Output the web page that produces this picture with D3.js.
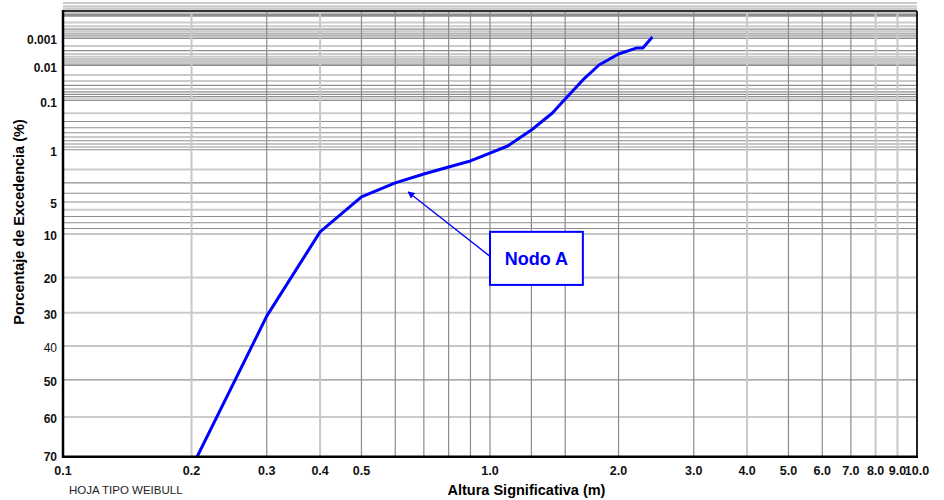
<!DOCTYPE html>
<meta charset="utf-8">
<style>
body { margin: 0; background: #fff; }
text { font-family: Arial, "Liberation Sans", sans-serif; }
</style>
<svg width="944" height="500" id="svg"></svg>
<script src="https://d3js.org/d3.v7.min.js"></script>
<script>

// Altura significativa (m) vs porcentaje de excedencia (%)
var alturas = [0.2, 0.3, 0.4, 0.5, 0.6, 0.7, 0.8, 0.9, 1.0, 1.1, 1.25, 1.4, 1.5, 1.65, 1.8, 2.0, 2.2, 2.28, 2.4];
var excedencia = [71.5, 31.0, 9.6, 4.4, 3.0, 2.3, 1.84, 1.5, 1.13, 0.865, 0.443, 0.196, 0.0915, 0.028, 0.0096, 0.004, 0.0024, 0.0024, 0.00087];

var xTicks = [0.1, 0.2, 0.3, 0.4, 0.5, 1, 2, 3, 4, 5, 6, 7, 8, 9, 10];
var xGrid = [0.2, 0.3, 0.4, 0.5, 0.6, 0.7, 0.8, 0.9, 1, 1.25, 1.5, 2, 3, 4, 5, 6, 7, 8, 9];
var xGridLight = [0.2, 0.4, 4, 8, 9];
var yTicks = [0.001, 0.01, 0.1, 1, 5, 10, 20, 30, 40, 50, 60, 70];
var yGrid = [0.00006, 0.00007, 0.00008, 0.00009,
             0.0001, 0.0002, 0.0003, 0.0004, 0.0005, 0.0006, 0.0007, 0.0008, 0.0009,
             0.001, 0.002, 0.003, 0.004, 0.005, 0.006, 0.007, 0.008, 0.009,
             0.01, 0.02, 0.03, 0.04, 0.05, 0.06, 0.07, 0.08, 0.09,
             0.1, 0.2, 0.3, 0.4, 0.5, 0.6, 0.7, 0.8, 0.9,
             1, 2, 3, 4, 5, 6, 7, 8, 9, 10, 20, 30, 40, 50, 60];
var yGridLight = [0.00006, 0.00007, 0.0002, 0.0003, 0.0005, 0.0007, 0.0009, 0.002, 0.004, 0.005, 0.008,
                  0.02, 0.03, 0.05, 0.09, 0.2, 0.6, 0.9, 2, 6, 20, 30, 60];
var yGridTop = [0.0000055, 0.000006, 0.000007, 0.000008, 0.000009, 0.00001, 0.00002, 0.00003, 0.00004, 0.00005];
var yGridTopLight = [0.000006, 0.000008, 0.00002, 0.00003, 0.00004];

var svg = d3.select("svg"),
    margin = {top: 11, right: 27, bottom: 43.3, left: 63},
    width = +svg.attr("width") - margin.left - margin.right,
    height = +svg.attr("height") - margin.top - margin.bottom;

// papel Weibull: ln(-ln(Q))
function ww(pct) { return Math.log(-Math.log(pct / 100)); }

var x = d3.scaleLog().domain([0.1, 10]).range([0, width]);
var yLin = d3.scaleLinear().domain([ww(69.2), ww(0.000054)]).range([height, 0]);
var y = function(p) { return yLin(ww(p)); };

var g = svg.append("g").attr("transform", "translate(" + margin.left + "," + margin.top + ")");

g.append("clipPath").attr("id", "clip")
  .append("rect").attr("width", width).attr("height", height);

function isLight(list, d) {
  return list.some(function(v) { return Math.abs(v - d) < v * 1e-6; });
}

// grid
g.selectAll(".hgrid").data(yGridTop.concat(yGrid)).enter().append("line")
    .attr("x1", 0).attr("x2", width)
    .attr("y1", function(d) { return y(d); })
    .attr("y2", function(d) { return y(d); })
    .attr("stroke", function(d) { return isLight(yGridLight.concat(yGridTopLight), d) ? "#cbcbcb" : "#8e8e8e"; })
    .attr("stroke-width", function(d) { return isLight(yGridLight.concat(yGridTopLight), d) ? 2 : 1.1; });

g.selectAll(".vgrid").data(xGrid).enter().append("line")
    .attr("y1", 0).attr("y2", height)
    .attr("x1", function(d) { return x(d); })
    .attr("x2", function(d) { return x(d); })
    .attr("stroke", function(d) { return xGridLight.indexOf(d) >= 0 ? "#c8c8c8" : "#8c8c8c"; })
    .attr("stroke-width", function(d) { return xGridLight.indexOf(d) >= 0 ? 2 : 1.2; });

// curve
var line = d3.line()
    .x(function(d) { return x(d[0]); })
    .y(function(d) { return y(d[1]); });

g.append("path")
    .datum(d3.zip(alturas, excedencia))
    .attr("clip-path", "url(#clip)")
    .attr("fill", "none")
    .attr("stroke", "#0000ff")
    .attr("stroke-width", 3)
    .attr("stroke-linejoin", "round")
    .attr("d", line);

// frame
g.append("line").attr("x1", 0).attr("x2", width).attr("y1", 0).attr("y2", 0)
    .attr("stroke", "#333").attr("stroke-width", 2);
g.append("line").attr("x1", width).attr("x2", width).attr("y1", 0).attr("y2", height)
    .attr("stroke", "#222").attr("stroke-width", 2);
g.append("line").attr("x1", 0).attr("x2", 0).attr("y1", -1).attr("y2", height + 1)
    .attr("stroke", "#000").attr("stroke-width", 2.5);
g.append("line").attr("x1", -1).attr("x2", width + 1).attr("y1", height).attr("y2", height)
    .attr("stroke", "#000").attr("stroke-width", 2.5);

// tick labels
g.selectAll(".ylab").data(yTicks).enter().append("text")
    .attr("x", -6)
    .attr("y", function(d) { return Math.min(y(d), height - 2); })
    .attr("dy", "0.5em")
    .attr("text-anchor", "end")
    .attr("font-size", 12)
    .attr("font-weight", function(d) { return d === 40 ? "normal" : "bold"; })
    .attr("fill", "#111")
    .text(function(d) { return d; });

g.selectAll(".xlab").data(xTicks).enter().append("text")
    .attr("x", function(d) { return x(d); })
    .attr("y", height + 18.5)
    .attr("text-anchor", "middle")
    .attr("font-size", 12.5)
    .attr("font-weight", "bold")
    .attr("fill", "#111")
    .text(function(d) { return d.toFixed(1); });

// titles
svg.append("text")
    .attr("transform", "translate(24,222) rotate(-90)")
    .attr("text-anchor", "middle")
    .attr("font-size", 14.5)
    .attr("font-weight", "bold")
    .text("Porcentaje de Excedencia (%)");

svg.append("text")
    .attr("x", 526.5).attr("y", 495)
    .attr("text-anchor", "middle")
    .attr("font-size", 14.5)
    .attr("font-weight", "bold")
    .text("Altura Significativa (m)");

svg.append("text")
    .attr("x", 69).attr("y", 494)
    .attr("font-size", 11.5)
    .attr("fill", "#222")
    .text("HOJA TIPO WEIBULL");

// annotation
svg.append("defs").append("marker")
    .attr("id", "arrow")
    .attr("viewBox", "0 0 10 10")
    .attr("refX", 9).attr("refY", 5)
    .attr("markerWidth", 7).attr("markerHeight", 7)
    .attr("markerUnits", "userSpaceOnUse")
    .attr("orient", "auto")
  .append("path").attr("d", "M0,0L10,5L0,10Z").attr("fill", "#0000ff");

var bx0 = x(1.0), by0 = y(9.6), bx1 = x(1.65), by1 = y(22);
g.append("line")
    .attr("x1", bx0).attr("y1", (by0 + by1) / 2 - 2)
    .attr("x2", x(0.643)).attr("y2", y(3.86))
    .attr("stroke", "#0000ff").attr("stroke-width", 1.3)
    .attr("marker-end", "url(#arrow)");
g.append("rect")
    .attr("x", bx0).attr("y", by0)
    .attr("width", bx1 - bx0).attr("height", by1 - by0)
    .attr("fill", "#fff")
    .attr("stroke", "#0000ff").attr("stroke-width", 2);
g.append("text")
    .attr("x", (bx0 + bx1) / 2).attr("y", (by0 + by1) / 2)
    .attr("dy", "0.35em")
    .attr("text-anchor", "middle")
    .attr("font-size", 18)
    .attr("font-weight", "bold")
    .attr("fill", "#0000ff")
    .text("Nodo A");
</script>
